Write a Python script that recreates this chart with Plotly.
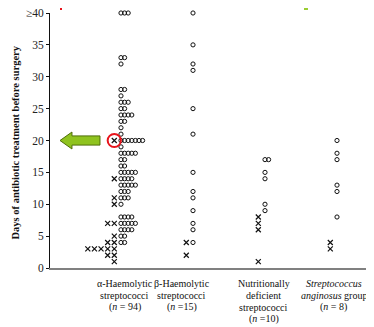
import plotly.graph_objects as go
from collections import Counter

# ---- data (days of antibiotic treatment before surgery; 40 means >=40) ----
groups = ["alpha", "beta", "nd", "ang"]
group_labels = [
    ["α-Haemolytic", "streptococci", "(<i>n</i> = 94)"],
    ["β-Haemolytic", "streptococci", "(<i>n</i> =15)"],
    ["Nutritionally", "deficient", "streptococci", "(<i>n</i> =10)"],
    ["<i>Streptococcus</i>", "<i>anginosus</i> group", "(<i>n</i> = 8)"],
]
# open circles
alpha_circles = [40, 40, 40, 33, 33, 32, 28, 28, 27, 26, 26, 26, 25, 25,
                 24, 24, 24, 24, 23, 23, 22, 21,
                 20, 20, 20, 20, 20, 20, 20, 19, 18, 18, 18, 18, 18,
                 17, 17, 16, 16, 15, 15, 15, 15, 15, 14, 14, 14, 14,
                 13, 13, 13, 13, 13, 12, 12, 12, 11, 11, 11, 10,
                 8, 8, 8, 8, 7, 7, 7, 7, 7, 6, 6, 6, 6, 5, 5, 4, 4]
beta_circles = [40, 35, 32, 31, 25, 21, 15, 12, 11, 9, 7, 6, 4]
nd_circles = [17, 17, 15, 14, 10, 9]
ang_circles = [20, 18, 17, 13, 12, 8]
# crosses
alpha_crosses = [20, 14, 11, 10, 7, 7, 5, 4, 4, 3, 3, 3, 3, 3, 2, 2, 1]
beta_crosses = [4, 2]
nd_crosses = [8, 7, 6, 1]
ang_crosses = [4, 3]

circles = [alpha_circles, beta_circles, nd_circles, ang_circles]
crosses = [alpha_crosses, beta_crosses, nd_crosses, ang_crosses]

y_tickvals = [0, 5, 10, 15, 20, 25, 30, 35, 40]
y_ticktext = ["0", "5", "10", "15", "20", "25", "30", "35", "≥40"]

# ---- layout of dot columns (in group units; 1 unit = group spacing) ----
CIRC_START, CIRC_STEP = 0.046, 0.050
CROSS_START, CROSS_STEP = -0.047, -0.092

OFF = 8                      # page body margin in the browser
W, H = 374 - OFF, 327 - OFF  # figure size
ML, MR, MT, MB = 50 - OFF, 1, 13 - OFF, 59
PW, PH = W - ML - MR, H - MT - MB
PLOT_L, PLOT_B = 50, 268     # plot-area edges in page pixels


def stack(values, g, start, step):
    xs, ys = [], []
    cnt = Counter()
    for v in values:
        xs.append(g + start + cnt[v] * step)
        ys.append(v)
        cnt[v] += 1
    return xs, ys


fig = go.Figure()
for g in range(len(groups)):
    cx, cy = stack(circles[g], g, CIRC_START, CIRC_STEP)
    fig.add_trace(go.Scatter(x=cx, y=cy, mode="markers", cliponaxis=False,
                             marker=dict(symbol="circle-open", size=4.2,
                                         color="#111", line=dict(width=1, color="#111")),
                             showlegend=False, hoverinfo="skip"))
    xx, xy = stack(crosses[g], g, CROSS_START, CROSS_STEP)
    fig.add_trace(go.Scatter(x=xx, y=xy, mode="markers", cliponaxis=False,
                             marker=dict(symbol="x-thin-open", size=5,
                                         color="#111", line=dict(width=1.2, color="#111")),
                             showlegend=False, hoverinfo="skip"))

serif = "Liberation Serif, Times New Roman, serif"

# category labels, one annotation per line
label_x = [0.10, 0.893, 2.032, 3.004]
line_y_px = [283, 295, 307, 319]
for lx, lines in zip(label_x, group_labels):
    for i, txt in enumerate(lines):
        fig.add_annotation(x=lx, xref="x", y=(PLOT_B - line_y_px[i]) / PH, yref="paper",
                           xanchor="center", yanchor="middle", text=txt, showarrow=False,
                           font=dict(family=serif, size=10, color="#111"))

# y title
fig.add_annotation(x=(14.5 - PLOT_L) / PW, xref="paper", y=(PLOT_B - 143) / PH, yref="paper",
                   xanchor="center", yanchor="middle",
                   text="<b>Days of antibiotic treatment before surgery</b>",
                   textangle=-90, showarrow=False,
                   font=dict(family=serif, size=10.5, color="#111"))

# green arrow pointing at the alpha group's 20-day row
tip_x, head_x, tail_x = -0.801, -0.635, -0.246
yc, hh, sh = 20, 1.33, 0.72
arrow_path = (f"M {tip_x} {yc} L {head_x} {yc + hh} L {head_x} {yc + sh} "
              f"L {tail_x} {yc + sh} L {tail_x} {yc - sh} L {head_x} {yc - sh} "
              f"L {head_x} {yc - hh} Z")
fig.add_shape(type="path", path=arrow_path, xref="x", yref="y",
              fillcolor="#8fc31f", line=dict(color="#4f6e08", width=1))

# red circle around the first cross at 20 days
rx, ry = 0.092, 1.03
fig.add_shape(type="circle", xref="x", yref="y",
              x0=CROSS_START - rx, x1=CROSS_START + rx, y0=20 - ry, y1=20 + ry,
              line=dict(color="#e8141c", width=2))

# small cropped marks at the very top edge of the figure
for px0, px1, col in [(60, 62, "#e8141c"), (304, 308, "#9acd32")]:
    fig.add_shape(type="rect", xref="paper", yref="paper",
                  x0=(px0 - PLOT_L) / PW, x1=(px1 - PLOT_L) / PW,
                  y0=(PLOT_B - 10) / PH, y1=(PLOT_B - 8) / PH,
                  fillcolor=col, line=dict(width=0))

fig.update_layout(
    width=W, height=H,
    margin=dict(l=ML, r=MR, t=MT, b=MB),
    paper_bgcolor="white", plot_bgcolor="white",
    xaxis=dict(range=[-0.940, 3.546], showgrid=False, zeroline=False,
               showticklabels=False, ticks="", showline=True, automargin=False,
               linecolor="#808080", linewidth=2, fixedrange=True),
    yaxis=dict(range=[0, 40], showgrid=False, zeroline=False, automargin=False,
               tickvals=y_tickvals, ticktext=y_ticktext, ticklabeloverflow="allow",
               ticks="outside", ticklen=3, tickcolor="#111", tickwidth=1,
               showline=True, linecolor="#111", linewidth=1,
               tickfont=dict(family=serif, size=11.5, color="#222"),
               fixedrange=True),
)

fig.write_html("out.html")
